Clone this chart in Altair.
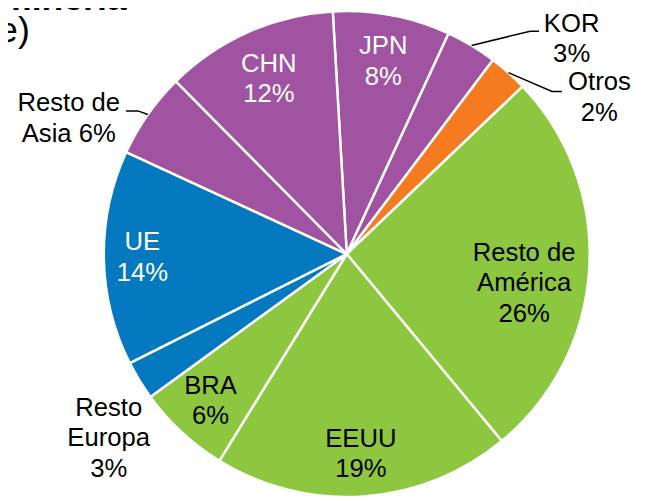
import math
import altair as alt
import pandas as pd

# ---- data ----
categories = ["JPN", "KOR", "Otros", "Resto de América", "EEUU", "BRA",
              "Resto Europa", "UE", "Resto de Asia", "CHN"]
shares = [7.8, 3.4, 2.6, 26.1, 19.8, 6.2, 2.6, 14.3, 5.7, 11.5]
pct_labels = ["8%", "3%", "2%", "26%", "19%", "6%", "3%", "14%", "6%", "12%"]
label_names = ["JPN", "KOR", "Otros", "Resto de\nAmérica", "EEUU", "BRA",
               "Resto\nEuropa", "UE", "Resto de\nAsia", "CHN"]
name_pct_sep = ["\n", "\n", "\n", "\n", "\n", "\n", "\n", "\n", " ", "\n"]
regions = ["Asia", "Asia", "Otros", "América", "América", "América",
           "Europa", "Europa", "Asia", "Asia"]

region_domain = ["Asia", "Otros", "América", "Europa"]
region_colors = ["#A053A1", "#F47B20", "#8DC63F", "#0479C0"]

# ---- layout (styling only) ----
W, H = 646, 493
CX, CY = 343, 246
R = 246
START_DEG = -3.3
LH = 31
# label placement: (radius, angle offset from slice middle in degrees, colour)
label_layout = {
    "JPN": (198, 0, "white"),
    "KOR": (315, 15.4, "black"),
    "Otros": (301, 16.5, "black"),
    "Resto de América": (182, 6, "black"),
    "EEUU": (203, 0, "black"),
    "BRA": (203, 0, "black"),
    "Resto Europa": (305, -6.4, "black"),
    "UE": (207, 0, "white"),
    "Resto de Asia": (313, -9.1, "black"),
    "CHN": (194, 0, "white"),
}
# leader lines: offsets (elbow, end) relative to label centre
leader_layout = {
    "KOR": ((-42, -8), (-33, -8)),
    "Otros": ((-48, -6), (-38, -6)),
    "Resto de Asia": ((70, -8), (58, -8)),
}

total = sum(shares)
df = pd.DataFrame({
    "cat": categories,
    "share": shares,
    "region": regions,
    "idx": list(range(len(categories))),
})

# middle angle of each slice (derived from the data)
mids = []
acc = 0.0
for s in shares:
    mids.append(START_DEG + 360.0 * (acc + s / 2) / total)
    acc += s

def polar(r, deg):
    a = math.radians(deg)
    return CX + r * math.sin(a), CY - r * math.cos(a)

lab_rows, line_rows = [], []
for c, m, n, sep, p in zip(categories, mids, label_names, name_pct_sep, pct_labels):
    r, off, col = label_layout[c]
    x, y = polar(r, m + off)
    txt = n + sep + p
    nlines = txt.count("\n") + 1
    lab_rows.append({"cat": c, "x": x, "y": y - (nlines - 1) * LH / 2,
                     "txt": txt, "col": col})
    if c in leader_layout:
        ex, ey = polar(R, m)
        (e1x, e1y), (e2x, e2y) = leader_layout[c]
        line_rows += [
            {"cat": c, "k": 0, "x": ex, "y": ey},
            {"cat": c, "k": 1, "x": x + e1x, "y": y + e1y},
            {"cat": c, "k": 2, "x": x + e2x, "y": y + e2y},
        ]
lab_df = pd.DataFrame(lab_rows)
line_df = pd.DataFrame(line_rows)

pie = alt.Chart(df).mark_arc(radius=R, stroke="white", strokeWidth=2.5).encode(
    theta=alt.Theta("share:Q", stack=True,
                    scale=alt.Scale(range=[math.radians(START_DEG),
                                           math.radians(START_DEG) + 2 * math.pi])),
    order=alt.Order("idx:Q"),
    color=alt.Color("region:N", scale=alt.Scale(domain=region_domain, range=region_colors),
                    legend=None),
    x=alt.value(CX),
    y=alt.value(CY),
)

leaders = alt.Chart(line_df).mark_line(color="black", strokeWidth=1.5).encode(
    x=alt.X("x:Q", scale=None, axis=None),
    y=alt.Y("y:Q", scale=None, axis=None),
    detail="cat:N",
    order="k:Q",
)

labels = alt.Chart(lab_df).mark_text(
    font="Liberation Sans", fontSize=26, lineBreak="\n", lineHeight=LH,
    align="center", baseline="middle",
).encode(
    x=alt.X("x:Q", scale=None, axis=None),
    y=alt.Y("y:Q", scale=None, axis=None),
    text="txt:N",
    color=alt.Color("col:N", scale=None),
)

title_bold = alt.Chart(pd.DataFrame({"t": ["minería"]})).mark_text(
    font="Liberation Sans", fontSize=36, fontWeight="bold", align="left",
    baseline="alphabetic", color="black",
).encode(x=alt.value(-8), y=alt.value(-1), text="t:N")

title_sub = alt.Chart(pd.DataFrame({"t": ["e)"]})).mark_text(
    font="Liberation Sans", fontSize=36, align="right",
    baseline="alphabetic", color="black",
).encode(x=alt.value(22), y=alt.value(31), text="t:N")

chart = alt.layer(pie, leaders, labels, title_bold, title_sub).properties(
    width=W, height=H, autosize=alt.AutoSizeParams(type="none"), padding=0,
).configure_view(stroke=None)

chart.save("out.html", embed_options={"renderer": "svg", "actions": False})
